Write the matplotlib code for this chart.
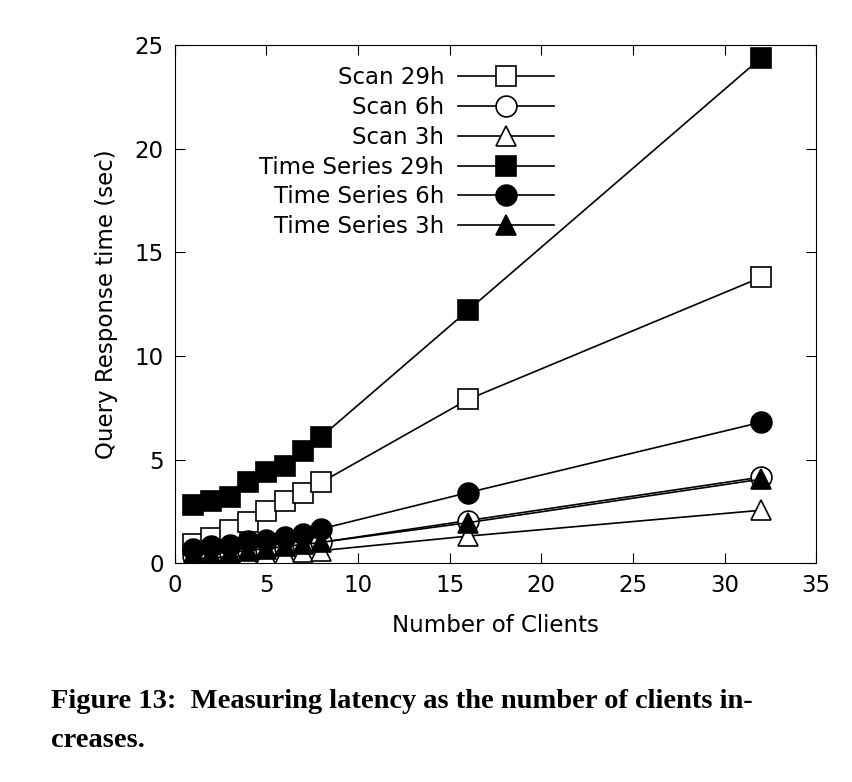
import matplotlib
matplotlib.use("Agg")
import matplotlib.pyplot as plt

# === Data ===
clients = [1, 2, 3, 4, 5, 6, 7, 8, 16, 32]
scan_29h = [0.9, 1.2, 1.6, 2.0, 2.5, 3.0, 3.4, 3.9, 7.9, 13.8]
scan_6h = [0.35, 0.4, 0.5, 0.6, 0.65, 0.75, 0.85, 1.0, 2.05, 4.15]
scan_3h = [0.2, 0.25, 0.3, 0.35, 0.4, 0.45, 0.55, 0.6, 1.3, 2.55]
ts_29h = [2.8, 3.0, 3.2, 3.9, 4.4, 4.7, 5.4, 6.1, 12.2, 24.4]
ts_6h = [0.7, 0.8, 0.85, 1.05, 1.1, 1.25, 1.4, 1.65, 3.4, 6.8]
ts_3h = [0.4, 0.45, 0.5, 0.6, 0.7, 0.8, 0.9, 1.0, 1.95, 4.05]

series = [
    ("Scan 29h", scan_29h, "s", "white"),
    ("Scan 6h", scan_6h, "o", "white"),
    ("Scan 3h", scan_3h, "^", "white"),
    ("Time Series 29h", ts_29h, "s", "black"),
    ("Time Series 6h", ts_6h, "o", "black"),
    ("Time Series 3h", ts_3h, "^", "black"),
]

plt.rcParams["font.family"] = "DejaVu Sans"
plt.rcParams["font.size"] = 16.5

fig = plt.figure(figsize=(8.52, 7.82), dpi=100)
ax = fig.add_axes([0.205, 0.28, 0.753, 0.662])

for label, vals, marker, fc in series:
    ax.plot(clients, vals, color="black", lw=1.2, marker=marker, ms=15,
            mfc=fc, mec="black", mew=1.2, label=label)

ax.set_xlim(0, 35)
ax.set_ylim(0, 25)
ax.set_xticks(range(0, 36, 5))
ax.set_yticks(range(0, 26, 5))
ax.tick_params(direction="in", top=True, right=True, length=7, pad=8)
ax.set_xlabel("Number of Clients", labelpad=12)
ax.set_ylabel("Query Response time (sec)", labelpad=12)

ax.legend(loc="upper left", bbox_to_anchor=(0.1, 1.0), markerfirst=False,
          frameon=False, handlelength=4.2, labelspacing=0.3,
          handletextpad=0.6)

fig.text(0.06, 0.095, "Figure 13:  Measuring latency as the number of clients in-",
         family="Liberation Serif", weight="bold", fontsize=20.5)
fig.text(0.06, 0.045, "creases.", family="Liberation Serif", weight="bold", fontsize=20.5)

fig.savefig("out.png", dpi=100)
